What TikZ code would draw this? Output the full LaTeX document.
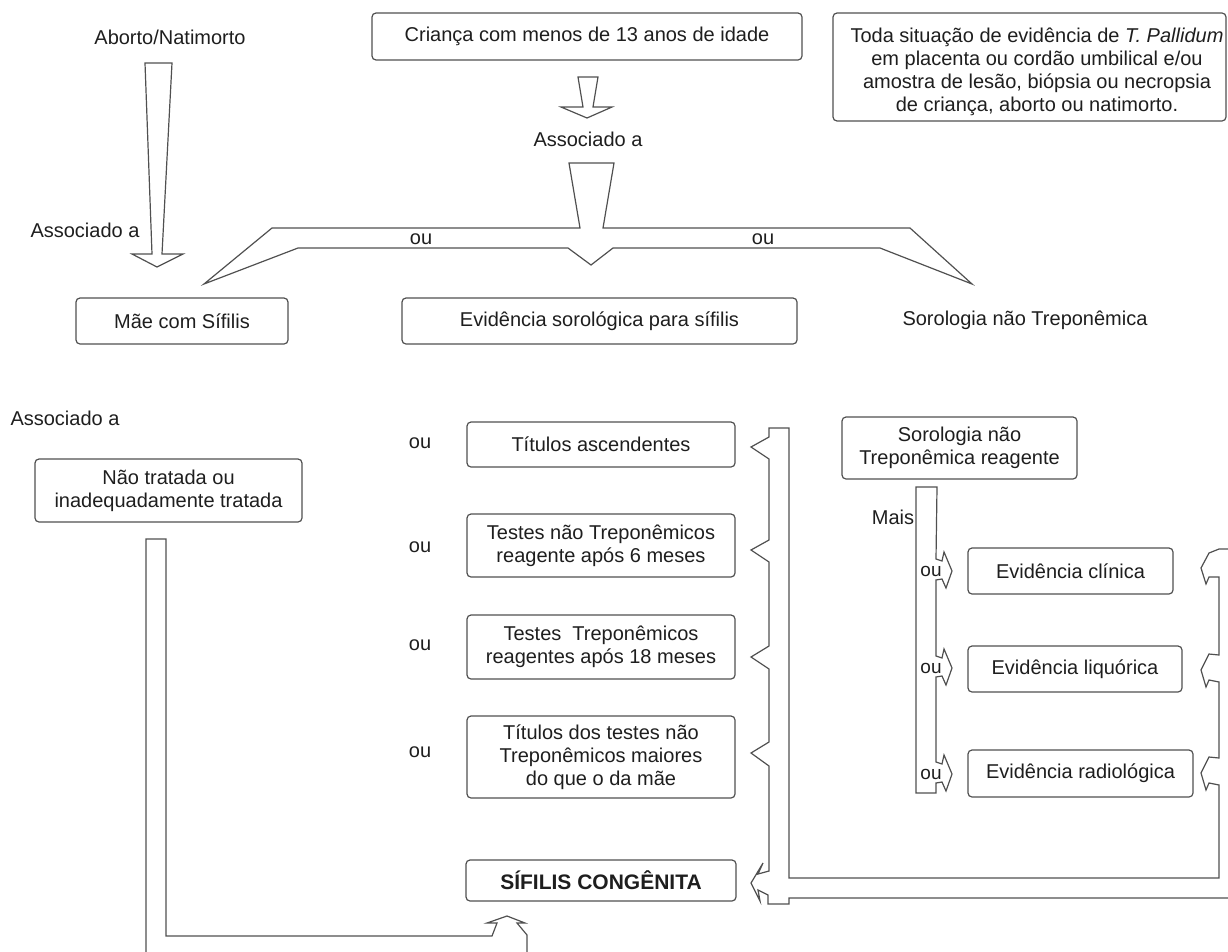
\documentclass[tikz,border=0pt]{standalone}
\usepackage{fontspec}
\setmainfont{Liberation Sans}
\definecolor{linec}{HTML}{505050}
\definecolor{txtc}{HTML}{1E1E1E}
\begin{document}
\begin{tikzpicture}[x=1pt,y=-1pt,
  txt/.style={text=txtc, font=\fontsize{20}{23}\selectfont, inner sep=0pt, align=center},
  box/.style={txt, draw=linec, line width=1.2pt, rounded corners=4pt},
  blk/.style={draw=linec, line width=1.2pt, line join=miter, fill=none}]
\useasboundingbox (0,0) rectangle (1228,951);
\clip (0,0) rectangle (1228,951);

% ---- top row
\node[txt] (aborto) at (170,37) {Aborto/Natimorto};
\node[box, minimum width=430pt, minimum height=47pt] (crianca) at (587,36.5) {Criança com menos de 13 anos de idade};
\node[box, minimum width=393pt, minimum height=108pt] (toda) at (1029.5,67) {};
\node[txt] (todatxt) at (1037,71.5) {Toda situação de evidência de \textit{T. Pallidum}\\em placenta ou cordão umbilical e/ou\\amostra de lesão, biópsia ou necropsia\\de criança, aborto ou natimorto.};

% arrows top
\draw[blk] (145,63) -- (172,63) -- (162,254) -- (183,254) -- (157,267) -- (132,254) -- (152,254) -- cycle;
\node[txt] (assoc1) at (85,230) {Associado a};
\draw[blk] (578,77) -- (598,77) -- (593,107) -- (612,107) -- (587,118) -- (561,107) -- (583,107) -- cycle;
\node[txt] (assoc2) at (588,139) {Associado a};
\draw[blk] (569,163) -- (614,163) -- (603,228) -- (910,228) -- (972,284) -- (880,248) -- (613,248)
  -- (591,265) -- (568,248) -- (298,248) -- (204,284) -- (272,228) -- (580,228) -- cycle;
\node[txt] (ou1) at (421,239) {ou};
\node[txt] (ou2) at (763,239) {ou};

% ---- second row
\node[box, minimum width=212pt, minimum height=46pt] (mae) at (182,321) {Mãe com Sífilis};
\node[box, minimum width=395pt, minimum height=46pt] (evid) at (599.5,321) {Evidência sorológica para sífilis};
\node[txt] (sornt) at (1025,320) {Sorologia não Treponêmica};

% ---- left column
\node[txt] (assoc3) at (65,418) {Associado a};
\node[box, minimum width=267pt, minimum height=63pt] (naotrat) at (168.5,490.5) {Não tratada ou\\inadequadamente tratada};
\draw[blk] (146,960) -- (146,539) -- (166,539) -- (166,936) -- (492,936) -- (497,923) -- (487,923)
  -- (507,916) -- (525,923) -- (517,923) -- (527,935) -- (527,960);

% ---- middle column
\node[box, minimum width=268pt, minimum height=45pt] (tit) at (601,444.5) {Títulos ascendentes};
\node[box, minimum width=268pt, minimum height=63pt] (t6) at (601,545.5) {Testes não Treponêmicos\\reagente após 6 meses};
\node[box, minimum width=268pt, minimum height=64pt] (t18) at (601,647) {Testes\ \ Treponêmicos\\reagentes após 18 meses};
\node[box, minimum width=268pt, minimum height=82pt] (tmae) at (601,757) {Títulos dos testes não\\Treponêmicos maiores\\do que o da mãe};
\node[box, minimum width=270pt, minimum height=41pt, font=\fontsize{21}{24}\selectfont\bfseries] (sc) at (601,880.5) {SÍFILIS CONGÊNITA};
\node[txt] (oua) at (420,443) {ou};
\node[txt] (oub) at (420,547) {ou};
\node[txt] (ouc) at (420,645) {ou};
\node[txt] (oud) at (420,752) {ou};

% ---- right column
\node[box, minimum width=235pt, minimum height=62pt] (sreag) at (959.5,448) {Sorologia não\\Treponêmica reagente};
\node[box, minimum width=205pt, minimum height=46pt] (clin) at (1070.5,571) {Evidência clínica};
\node[box, minimum width=214pt, minimum height=46pt] (liq) at (1075,669) {Evidência liquórica};
\node[box, minimum width=225pt, minimum height=47pt] (rad) at (1080.5,773.5) {Evidência radiológica};

% Mais band
\draw[blk] (937,487) -- (916,487) -- (916,793) -- (936,793) -- (936,783)
  -- (942,782) -- (946,791) -- (952,774) -- (944,755) -- (942,764) -- (936,762)
  -- (936,677)
  -- (942,676) -- (946,685) -- (952,668) -- (944,649) -- (942,658) -- (936,656)
  -- (936,580)
  -- (942,579) -- (946,588) -- (952,571) -- (944,552) -- (942,561) -- (936,559)
  -- cycle;
\node[txt] (mais) at (893,517) {Mais};
\node[txt, font=\fontsize{19}{22}\selectfont] (ouA) at (931,571) {ou};
\node[txt, font=\fontsize{19}{22}\selectfont] (ouB) at (931,668) {ou};
\node[txt, font=\fontsize{19}{22}\selectfont] (ouC) at (931,774) {ou};

% big right/middle brace
\draw[blk] (1240,549) -- (1219,549)
  -- (1209,553) -- (1201,568) -- (1206,584) -- (1209,577) -- (1219,577)
  -- (1219,655)
  -- (1209,654) -- (1201,670) -- (1206,687) -- (1209,680) -- (1219,682)
  -- (1219,758)
  -- (1209,757) -- (1201,773) -- (1206,790) -- (1209,783) -- (1219,785)
  -- (1219,878) -- (789,878) -- (789,428) -- (769,428)
  -- (769,437) -- (751,447) -- (769,459)
  -- (769,540) -- (751,550) -- (769,562)
  -- (769,646) -- (751,657) -- (769,669)
  -- (769,742) -- (751,753) -- (769,766)
  -- (769,871) -- (758,874) -- (763,863) -- (751,883) -- (760,901) -- (758,890) -- (768,895)
  -- (768,904) -- (789,904) -- (789,898) -- (1240,898);
\end{tikzpicture}
\end{document}
